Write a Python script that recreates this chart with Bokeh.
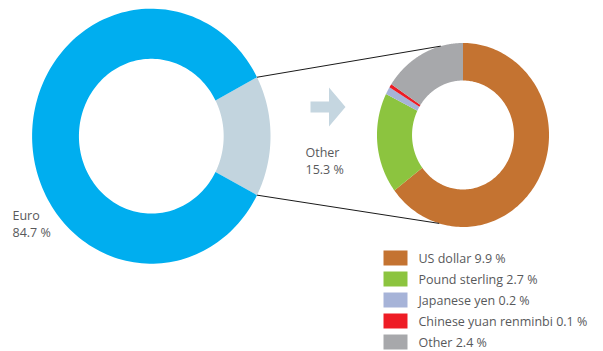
import numpy as np
from bokeh.plotting import figure
from bokeh.models import Range1d, ColumnDataSource
from bokeh.core.properties import value
from bokeh.embed import file_html
from bokeh.resources import INLINE

# ---- data ----
main_labels = ["Other", "Euro"]
main_values = [15.3, 84.7]
main_colors = ["#C2D4DE", "#00AEEF"]

other_labels = ["US dollar", "Pound sterling", "Japanese yen", "Chinese yuan renminbi", "Other"]
other_values = [9.9, 2.7, 0.2, 0.1, 2.4]
other_colors = ["#C47331", "#8CC43F", "#A6B3D8", "#EE1C25", "#A7A8AB"]

# ---- layout constants (screen-like data units, y downwards) ----
W, H = 603, 351
SQ = 0.935  # horizontal squish of the rings
L_CX, L_CY, L_RO, L_RI = 150.8, 135.7, 127.5, 77.4
R_CX, R_CY, R_RO, R_RI = 462.5, 134.5, 92.0, 54.5
FONT = value("Open Sans")
TXT = "#58595B"
FS = "12.5px"

p = figure(width=W, height=H, x_range=Range1d(0, W), y_range=Range1d(H, 0),
           output_backend="svg", toolbar_location=None, min_border=0,
           x_axis_location=None, y_axis_location=None)
p.grid.visible = False
p.outline_line_color = None
p.background_fill_color = "white"
p.border_fill_color = "white"


def ring(cx, cy, ro, ri, a0, a1, n=160):
    t = np.radians(np.linspace(a0, a1, n))
    xo = cx + ro * SQ * np.cos(t)
    yo = cy - ro * np.sin(t)
    xi = cx + ri * SQ * np.cos(t[::-1])
    yi = cy - ri * np.sin(t[::-1])
    return list(np.concatenate([xo, xi])), list(np.concatenate([yo, yi]))


def pt(cx, cy, r, a):
    return cx + r * SQ * np.cos(np.radians(a)), cy - r * np.sin(np.radians(a))


# main donut: "Other" centred on the right, counter-clockwise
tot = sum(main_values)
start = -360 * main_values[0] / tot / 2
xs, ys = [], []
a = start
angles_main = []
for v in main_values:
    a1 = a + 360 * v / tot
    x, y = ring(L_CX, L_CY, L_RO, L_RI, a, a1)
    xs.append(x); ys.append(y)
    angles_main.append((a, a1))
    a = a1
p.patches(xs="xs", ys="ys", fill_color="color", line_color=None,
          source=ColumnDataSource(dict(xs=xs, ys=ys, color=main_colors)))

# breakdown donut: from 12 o'clock, clockwise
tot2 = sum(other_values)
xs, ys = [], []
a = 90.0
for v in other_values:
    a1 = a - 360 * v / tot2
    x, y = ring(R_CX, R_CY, R_RO, R_RI, a1, a)
    xs.append(x); ys.append(y)
    a = a1
p.patches(xs="xs", ys="ys", fill_color="color", line_color=None,
          source=ColumnDataSource(dict(xs=xs, ys=ys, color=other_colors)))

# connector lines
o0, o1 = angles_main[0]
ux0, uy0 = pt(L_CX, L_CY, L_RO, o1)
lx0, ly0 = pt(L_CX, L_CY, L_RO, o0)
ux1, uy1 = pt(R_CX, R_CY, R_RO, 105)
lx1, ly1 = pt(R_CX, R_CY, R_RO, -106)
p.segment(x0=[ux0, lx0], y0=[uy0, ly0], x1=[ux1, lx1], y1=[uy1, ly1],
          line_color="#1a1a1a", line_width=1)

# arrow
ay = 106.5
p.patch(x=[310, 328.5, 328.5, 345, 328.5, 328.5, 310],
        y=[ay - 5.5, ay - 5.5, ay - 19.5, ay, ay + 19.5, ay + 5.5, ay + 5.5],
        fill_color="#C5D6E0", line_color=None)

# labels
p.text(x=[12, 12], y=[215, 232], text=[main_labels[1], f"{main_values[1]} %"],
       text_font=FONT, text_font_size=FS, text_color=TXT, text_baseline="middle")
p.text(x=[305, 305], y=[152, 169], text=[main_labels[0], f"{main_values[0]} %"],
       text_font=FONT, text_font_size=FS, text_color=TXT, text_baseline="middle")

# legend
ly = [257.5 + 21 * i for i in range(len(other_labels))]
p.rect(x=[395] * len(ly), y=ly, width=24, height=15, fill_color=other_colors, line_color=None)
p.text(x=[418] * len(ly), y=ly, text=[f"{l} {v} %" for l, v in zip(other_labels, other_values)],
       text_font=FONT, text_font_size=FS, text_color=TXT, text_baseline="middle")

open("out.html", "w").write(file_html(p, INLINE))
